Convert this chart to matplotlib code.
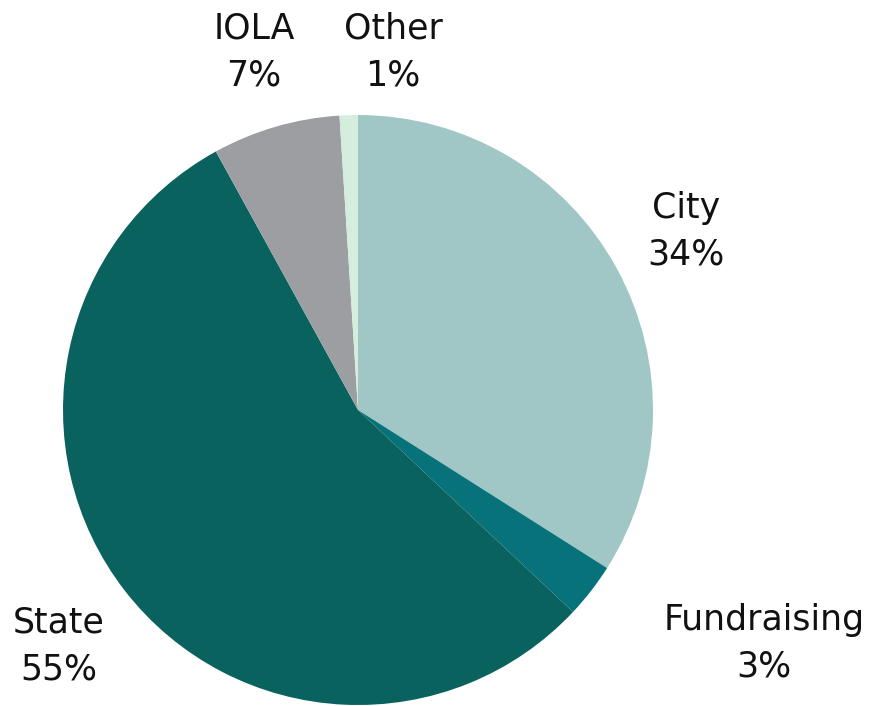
import matplotlib
matplotlib.use("Agg")
import matplotlib.pyplot as plt

categories = ["City", "Fundraising", "State", "IOLA", "Other"]
values = [34, 3, 55, 7, 1]
colors = ["#A0C6C5", "#077279", "#0A625F", "#9C9EA2", "#D4EDDD"]
# label block centers in pixel coordinates (x from left, y from top)
label_px = [(686, 231), (764, 643), (59, 646), (254, 52), (393, 52)]

W, H = 878, 706
cx, cy, R = 358, 410, 295

fig = plt.figure(figsize=(W / 100, H / 100), dpi=100)
ax = fig.add_axes([0, 0, 1, 1])
ax.pie(values, colors=colors, startangle=90, counterclock=False,
       radius=1, center=(0, 0),
       wedgeprops=dict(linewidth=0))
ax.set_xlim(-cx / R, (W - cx) / R)
ax.set_ylim(-(H - cy) / R, cy / R)
ax.set_aspect("auto")
ax.axis("off")

for cat, v, (px, py) in zip(categories, values, label_px):
    ax.text(px / W, 1 - py / H, f"{cat}\n{v}%", transform=ax.transAxes,
            ha="center", va="center", fontsize=25, linespacing=1.45,
            color="#111111", family=['DejaVu Sans'])

fig.savefig("out.png", dpi=100)
